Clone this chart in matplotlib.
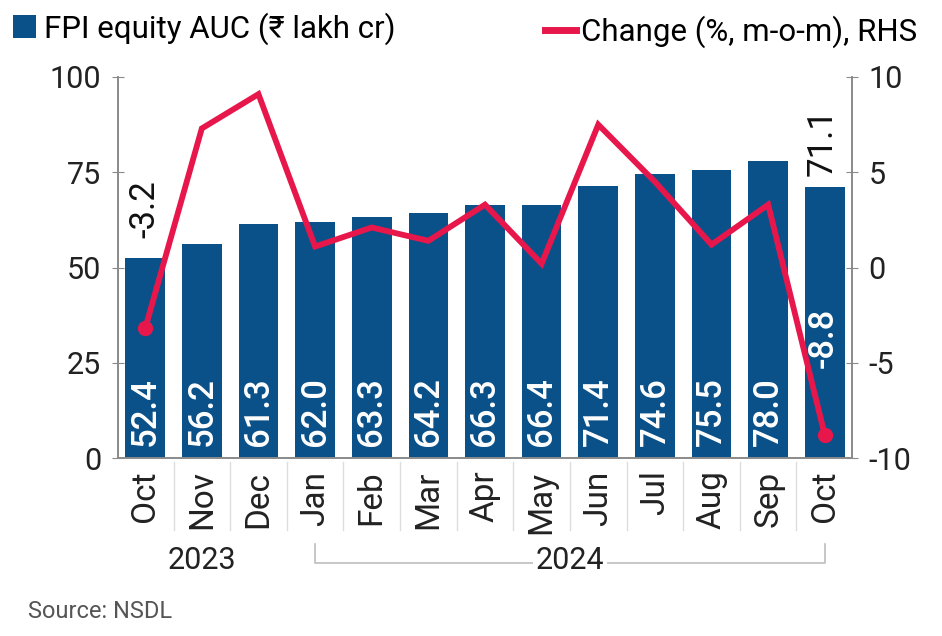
import matplotlib
matplotlib.use("Agg")
import matplotlib.pyplot as plt
from matplotlib.lines import Line2D
from matplotlib.patches import Patch

plt.rcParams['font.family'] = ['Roboto', 'Noto Sans', 'DejaVu Sans']
plt.rcParams['axes.unicode_minus'] = False

months = ["Oct", "Nov", "Dec", "Jan", "Feb", "Mar", "Apr", "May", "Jun", "Jul", "Aug", "Sep", "Oct"]
auc = [52.4, 56.2, 61.3, 62.0, 63.3, 64.2, 66.3, 66.4, 71.4, 74.6, 75.5, 78.0, 71.1]
change = [-3.2, 7.3, 9.1, 1.1, 2.1, 1.4, 3.3, 0.2, 7.5, 4.5, 1.2, 3.3, -8.8]
years = ["2023", "2024"]
left_ticks = [0, 25, 50, 75, 100]
right_ticks = [-10, -5, 0, 5, 10]

BLUE = "#0b5189"
RED = "#e8174b"
GRAY = "#8a8a8a"

fig = plt.figure(figsize=(9.42, 6.36), dpi=100)
ax = fig.add_axes([118/942, 1-458/636, (852-118)/942, (458-77)/636])
ax2 = ax.twinx()

x = list(range(len(months)))
ax.bar(x, auc, width=0.7, color=BLUE, zorder=2)
ax.set_xlim(-0.48, len(months) - 1 + 0.48)
ax.set_ylim(0, 100)
ax.set_yticks(left_ticks)
ax2.set_ylim(-10, 10)
ax2.set_yticks(right_ticks)

ax2.plot(x, change, color=RED, lw=4.2, solid_joinstyle='miter', zorder=3)
ax2.plot([x[0], x[-1]], [change[0], change[-1]], 'o', color=RED, ms=10, zorder=4)

# bar value labels
for i, v in enumerate(auc[:-1]):
    ax.annotate(f"{v:.1f}", (i, 0), xytext=(0, 9), textcoords='offset points',
                rotation=90, ha='center', va='bottom', color='white',
                fontsize=25, fontweight='medium', zorder=5)
ax.annotate(f"{auc[-1]:.1f}", (x[-1], auc[-1]), xytext=(-2, 8), textcoords='offset points',
            rotation=90, ha='center', va='bottom', color='#111111', fontsize=25, zorder=5)
ax.annotate(f"{change[0]:.1f}", (x[0], auc[0]), xytext=(0, 15), textcoords='offset points',
            rotation=90, ha='center', va='bottom', color='#111111', fontsize=25, zorder=5)
ax2.annotate(f"{change[-1]:.1f}", (x[-1], change[-1]), xytext=(-1, 48), textcoords='offset points',
             rotation=90, ha='center', va='bottom', color='white', fontsize=25,
             fontweight='medium', zorder=5)

for a in (ax, ax2):
    a.spines['top'].set_visible(False)
    for s in ('left', 'right', 'bottom'):
        a.spines[s].set_color(GRAY)
        a.spines[s].set_linewidth(1.2)
    a.tick_params(axis='y', direction='inout', length=8, color=GRAY, labelsize=22,
                  labelcolor='#222222', pad=8)

ax.set_xticks(x)
ax.set_xticklabels(months, rotation=90, fontsize=24, color='#222222')
ax.tick_params(axis='x', length=0, pad=9)

tr = ax.get_xaxis_transform()
# separators between month labels
for i in range(len(months) - 1):
    ax.add_line(Line2D([i + 0.5, i + 0.5], [-0.01, -0.19], transform=tr, color='#dddddd',
                       lw=1, clip_on=False))

# year labels
ax.text(1, -0.268, years[0], transform=tr, ha='center', va='center', fontsize=22, color='#222222')
ax.text(7.5, -0.268, years[1], transform=tr, ha='center', va='center', fontsize=22, color='#222222',
        bbox=dict(facecolor='white', edgecolor='none', pad=2), zorder=6)
ax.add_line(Line2D([3, 3, 12, 12], [-0.225, -0.275, -0.275, -0.225], transform=tr,
                   color='#bdbdbd', lw=1.2, clip_on=False, zorder=5))

# legends
h1 = Patch(facecolor=BLUE, edgecolor='none')
h2 = Line2D([0], [0], color=RED, lw=5)
fig.legend([h1], ["FPI equity AUC (₹ lakh cr)"], loc='upper left', bbox_to_anchor=(0.0, 1.0),
           frameon=False, fontsize=22.5, handlelength=0.75, handleheight=0.75, handletextpad=0.25,
           borderaxespad=0.1, borderpad=0.3)
fig.legend([h2], ["Change (%, m-o-m), RHS"], loc='upper right', bbox_to_anchor=(0.99, 1.0),
           frameon=False, fontsize=22.5, handlelength=1.0, handletextpad=0.15, borderaxespad=0.2,
           borderpad=0.3)

fig.text(28/942, 1-612/636, "Source: NSDL", fontsize=17, color='#555555', va='center')

fig.savefig("out.png", dpi=100)
